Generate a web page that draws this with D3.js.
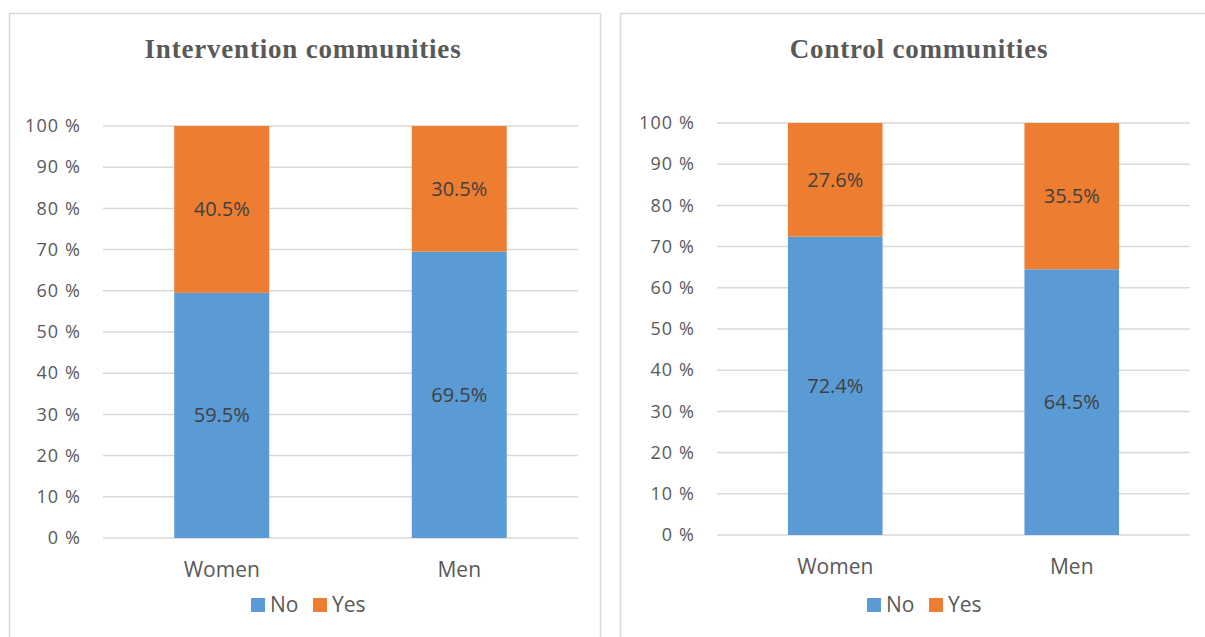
<!DOCTYPE html>
<html>
<head>
<meta charset="utf-8">
<script src="https://cdn.jsdelivr.net/npm/d3@7/dist/d3.min.js"></script>
<style>
  html, body { margin: 0; padding: 0; background: #fff; }
  svg { display: block; }
</style>
</head>
<body>
<svg id="chart" width="1205" height="637"></svg>
<script>
// Survey responses by sex, shown as 100% stacked columns
const categories = ["Women", "Men"];
const seriesNames = ["No", "Yes"];
const interventionNo = [59.5, 69.5];
const interventionYes = [40.5, 30.5];
const controlNo = [72.4, 64.5];
const controlYes = [27.6, 35.5];
const tickValues = [0, 10, 20, 30, 40, 50, 60, 70, 80, 90, 100];
const titles = ["Intervention communities", "Control communities"];

const colors = { No: "#5B9BD5", Yes: "#ED7D31" };
const axisColor = "#595959";
const gridColor = "#D9D9D9";
const labelColor = "#404040";
const sansFont = "'Open Sans', 'Liberation Sans', sans-serif";
const serifFont = "'Liberation Serif', 'DejaVu Serif', serif";

const svg = d3.select("#chart");

const panels = [
  { title: titles[0], no: interventionNo, yes: interventionYes,
    box: [9, 13, 600, 700], plot: { x0: 103, x1: 578, yTop: 126, yBottom: 538 },
    titleX: 303, titleY: 58, catY: 577, legendX: 251, legendY: 605 },
  { title: titles[1], no: controlNo, yes: controlYes,
    box: [620, 13, 1220, 700], plot: { x0: 717, x1: 1190, yTop: 123, yBottom: 535 },
    titleX: 919, titleY: 58, catY: 574, legendX: 867, legendY: 605 }
];

panels.forEach(p => {
  const g = svg.append("g");
  const [bx0, by0, bx1, by1] = p.box;

  // chart frame
  g.append("rect")
    .attr("x", bx0 + 0.5).attr("y", by0 + 0.5)
    .attr("width", bx1 - bx0).attr("height", by1 - by0)
    .attr("fill", "#fff").attr("stroke", gridColor).attr("stroke-width", 1.5);

  const x = d3.scaleBand().domain(categories)
    .range([p.plot.x0, p.plot.x1]).paddingInner(0.6).paddingOuter(0.3);
  const y = d3.scaleLinear().domain([0, 100]).range([p.plot.yBottom, p.plot.yTop]);

  // title
  g.append("text")
    .attr("x", p.titleX)
    .attr("y", p.titleY)
    .attr("text-anchor", "middle")
    .attr("font-family", serifFont).attr("font-weight", "bold")
    .attr("font-size", 27).attr("letter-spacing", 0.8).attr("fill", axisColor)
    .text(p.title);

  // gridlines
  g.append("g").selectAll("line").data(tickValues).join("line")
    .attr("x1", p.plot.x0).attr("x2", p.plot.x1)
    .attr("y1", d => y(d)).attr("y2", d => y(d))
    .attr("stroke", gridColor).attr("stroke-width", 1.5);

  // y axis labels
  const yAxis = d3.axisLeft(y).tickValues(tickValues).tickSize(0).tickPadding(22)
    .tickFormat(d => d + " %");
  const ya = g.append("g").attr("transform", `translate(${p.plot.x0},0)`).call(yAxis);
  ya.select(".domain").remove();
  ya.selectAll("text").attr("font-family", sansFont).attr("font-size", 18)
    .attr("letter-spacing", 1.1)
    .attr("fill", axisColor);

  // stacked data
  const rows = categories.map((c, i) => ({ cat: c, No: p.no[i], Yes: p.yes[i] }));
  const stacked = d3.stack().keys(seriesNames)(rows);

  stacked.forEach(layer => {
    const key = layer.key;
    g.append("g").selectAll("rect").data(layer).join("rect")
      .attr("x", d => x(d.data.cat))
      .attr("width", x.bandwidth())
      .attr("y", d => y(d[1]))
      .attr("height", d => y(d[0]) - y(d[1]))
      .attr("fill", colors[key]);

    g.append("g").selectAll("text").data(layer).join("text")
      .attr("x", d => x(d.data.cat) + x.bandwidth() / 2)
      .attr("y", d => y((d[0] + d[1]) / 2))
      .attr("dy", "0.35em")
      .attr("text-anchor", "middle")
      .attr("font-family", sansFont).attr("font-size", 20)
      .attr("fill", labelColor)
      .text(d => d3.format(".1f")(d.data[key]) + "%");
  });

  // category axis labels
  g.append("g").selectAll("text").data(categories).join("text")
    .attr("x", d => x(d) + x.bandwidth() / 2)
    .attr("y", p.catY)
    .attr("text-anchor", "middle")
    .attr("font-family", sansFont).attr("font-size", 21)
    .attr("fill", axisColor)
    .text(d => d);

  // legend
  const legendItems = [
    { name: "No", x: p.legendX },
    { name: "Yes", x: p.legendX + 62 }
  ];
  const lg = g.append("g");
  legendItems.forEach(it => {
    lg.append("rect").attr("x", it.x).attr("y", p.legendY - 7)
      .attr("width", 14).attr("height", 14).attr("fill", colors[it.name]);
    lg.append("text").attr("x", it.x + 19).attr("y", p.legendY)
      .attr("dy", "0.35em")
      .attr("font-family", sansFont).attr("font-size", 21)
      .attr("fill", axisColor).text(it.name);
  });
});
</script>
</body>
</html>
